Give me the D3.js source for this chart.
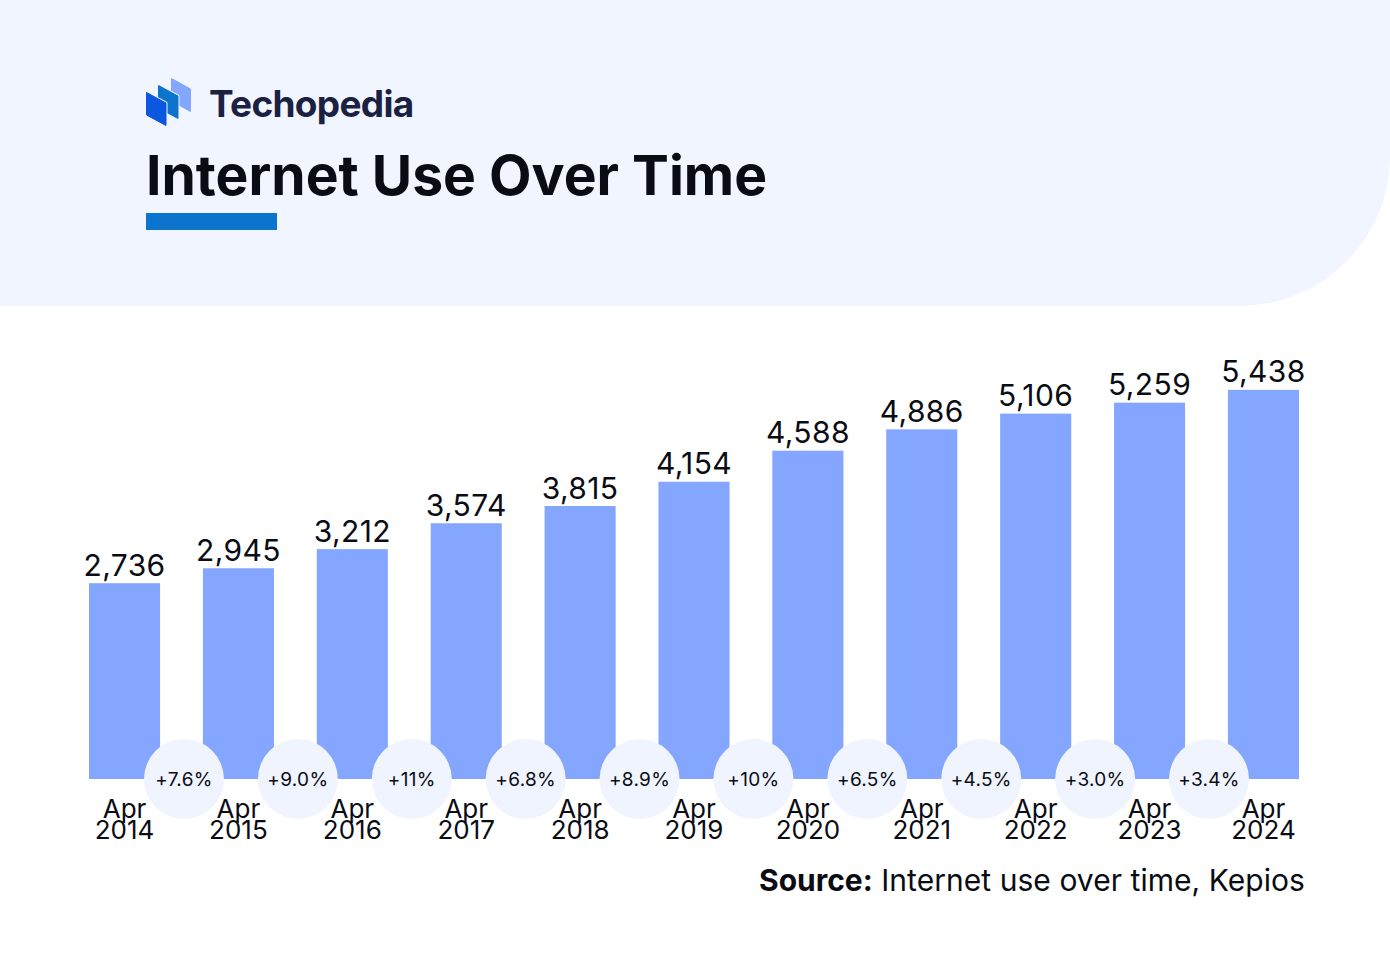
<!DOCTYPE html>
<html><head><meta charset="utf-8">
<script src="https://cdn.jsdelivr.net/npm/d3@7"></script>
<style>html,body{margin:0;padding:0;background:#fff}svg{display:block}text{font-family:Inter,sans-serif}</style>
</head><body><svg id="c" width="1390" height="976"></svg>
<script>
const months = ["Apr","Apr","Apr","Apr","Apr","Apr","Apr","Apr","Apr","Apr","Apr"];
const years = ["2014","2015","2016","2017","2018","2019","2020","2021","2022","2023","2024"];
const users = [2736,2945,3212,3574,3815,4154,4588,4886,5106,5259,5438];
const growth = ["+7.6%","+9.0%","+11%","+6.8%","+8.9%","+10%","+6.5%","+4.5%","+3.0%","+3.4%"];

const svg = d3.select("#c");
const W = 1390, HB = 306, R = 150, BG = "#f0f5ff";
svg.append("path").attr("fill",BG)
  .attr("d",`M0 0H${W}V${HB-R}A${R} ${R} 0 0 1 ${W-R} ${HB}H0Z`);

// logo
const logo = svg.append("g").attr("stroke-linejoin","round");
[["#84a6ff",[[171.5,78.5],[190.5,89],[190.5,111.5],[171.5,101]]],
 ["#0d74ce",[[158.5,85.5],[178,96],[178,118.5],[158.5,108]]],
 ["#0b57e0",[[146.5,92.5],[166,103],[166,125.5],[146.5,115]]]]
 .forEach(([f,p])=>{
   logo.append("polygon").attr("fill",BG).attr("stroke",BG).attr("stroke-width",3).attr("points",p.join(" "));
   logo.append("polygon").attr("fill",f).attr("stroke",f).attr("stroke-width",1).attr("points",p.join(" "));
 });
svg.append("text").attr("x",209).attr("y",117).attr("font-size",37).attr("font-weight",700).attr("letter-spacing",-0.7).attr("fill","#1b2140").text("Techopedia");
svg.append("text").attr("x",146).attr("y",194.5).attr("font-size",55.2).attr("font-weight",700).attr("fill","#0a0c14").text("Internet Use Over Time");
svg.append("rect").attr("x",146).attr("y",213).attr("width",131).attr("height",17).attr("fill","#0d74ce");

const x = d3.scaleBand().domain(years).range([89,1299]).paddingInner(0.376).paddingOuter(0);
const y = d3.scaleLinear().domain([0,5450]).range([779,389]);

svg.append("g").selectAll("rect").data(users).join("rect")
  .attr("x",(d,i)=>x(years[i])).attr("width",x.bandwidth())
  .attr("y",d=>y(d)).attr("height",d=>y(0)-y(d)).attr("fill","#84a6ff");

svg.append("g").selectAll("text").data(users).join("text")
  .attr("x",(d,i)=>x(years[i])+x.bandwidth()/2).attr("y",d=>y(d)-7.5)
  .attr("text-anchor","middle").attr("font-size",30).attr("letter-spacing",0.4).attr("fill","#0a0c14")
  .text(d=>d3.format(",")(d));

const mid = i => x(years[i])+x.bandwidth()/2+x.step()/2+2.5;
svg.append("g").selectAll("circle").data(growth).join("circle")
  .attr("cx",(d,i)=>mid(i)).attr("cy",y(0)).attr("r",40).attr("fill","#f0f4fe");
svg.append("g").selectAll("text").data(growth).join("text")
  .attr("x",(d,i)=>mid(i)).attr("y",y(0)+7)
  .attr("text-anchor","middle").attr("font-size",19).attr("letter-spacing",0.3).attr("fill","#0a0c14").text(d=>d);

const ticks = svg.append("g").selectAll("g").data(years).join("g")
  .attr("transform",d=>`translate(${x(d)+x.bandwidth()/2},0)`)
  .attr("text-anchor","middle").attr("font-size",26).attr("fill","#0a0c14");
ticks.append("text").attr("y",818).text((d,i)=>months[i]);
ticks.append("text").attr("y",839).text(d=>d);

const s = svg.append("text").attr("x",1305).attr("y",891).attr("text-anchor","end").attr("font-size",30).attr("fill","#0a0c14");
s.append("tspan").attr("font-weight",700).text("Source:");
s.append("tspan").attr("letter-spacing",0.05).text(" Internet use over time, Kepios");
</script></body></html>
